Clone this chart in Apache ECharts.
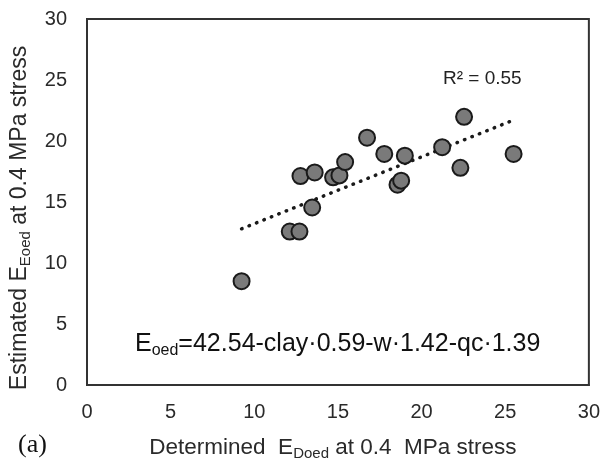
<!DOCTYPE html>
<html>
<head>
<meta charset="utf-8">
<script src="https://cdn.jsdelivr.net/npm/echarts@6/dist/echarts.min.js"></script>
<style>
html,body{margin:0;padding:0;background:#fff;}
#chart{width:603px;height:466px;}
</style>
</head>
<body>
<div id="chart"></div>
<script>
// Determined E_Doed (x) and Estimated E_Eoed (y) at 0.4 MPa stress
const determined = [9.24, 12.12, 12.70, 13.46, 12.76, 13.61, 14.71, 15.09, 15.43, 16.74, 17.77, 19.00, 18.56, 18.78, 21.23, 22.54, 22.32, 25.50];
const estimated  = [8.51, 12.58, 12.58, 14.55, 17.13, 17.42, 17.02, 17.18, 18.27, 20.27, 18.94, 18.80, 16.42, 16.75, 19.49, 21.98, 17.80, 18.94];
const xTicks = [0, 5, 10, 15, 20, 25, 30];
const yTicks = [0, 5, 10, 15, 20, 25, 30];
const r2Label = 'R² = 0.55';
const eqMain = '=42.54-clay·0.59-w·1.42-qc·1.39';

const points = determined.map((x, i) => [x, estimated[i]]);

// linear least-squares trendline
const n = determined.length;
const mx = determined.reduce((a, b) => a + b, 0) / n;
const my = estimated.reduce((a, b) => a + b, 0) / n;
let sxy = 0, sxx = 0;
for (let i = 0; i < n; i++) {
  sxy += (determined[i] - mx) * (estimated[i] - my);
  sxx += (determined[i] - mx) * (determined[i] - mx);
}
const slope = sxy / sxx;
const intercept = my - slope * mx;
const xMin = Math.min(...determined), xMax = Math.max(...determined);
const trend = [[xMin, intercept + slope * xMin], [xMax, intercept + slope * xMax]];

const FONT = '"Liberation Sans", Arial, sans-serif';
const chart = echarts.init(document.getElementById('chart'), null, {renderer: 'canvas'});
chart.setOption({
  animation: false,
  backgroundColor: '#fff',
  grid: {left: 86, right: 14, top: 19, bottom: 78, show: true, borderColor: '#333', borderWidth: 2, containLabel: false},
  xAxis: {
    type: 'value', min: xTicks[0], max: xTicks[xTicks.length - 1], interval: xTicks[1] - xTicks[0],
    axisLine: {show: true, lineStyle: {color: '#333', width: 2}},
    axisTick: {show: false}, splitLine: {show: false},
    axisLabel: {fontFamily: FONT, fontSize: 20, color: '#2a2a2a', margin: 17},
    name: '{m|Determined  E}{s|Doed}{m| at 0.4  MPa stress}',
    nameLocation: 'middle', nameGap: 49,
    nameTextStyle: {
      padding: [0, 10, 0, 0],
      rich: {
        m: {fontFamily: FONT, fontSize: 22.5, color: '#2a2a2a', lineHeight: 27},
        s: {fontFamily: FONT, fontSize: 15, color: '#2a2a2a', lineHeight: 19, verticalAlign: 'bottom'}
      }
    }
  },
  yAxis: {
    type: 'value', min: yTicks[0], max: yTicks[yTicks.length - 1], interval: yTicks[1] - yTicks[0],
    axisLine: {show: true, lineStyle: {color: '#333', width: 2}},
    axisTick: {show: false}, splitLine: {show: false},
    axisLabel: {fontFamily: FONT, fontSize: 20, color: '#2a2a2a', margin: 20},
    name: '{m|Estimated E}{s|Eoed}{m| at 0.4 MPa stress}',
    nameLocation: 'middle', nameGap: 54, nameRotate: 90,
    nameTextStyle: {
      padding: [0, 32, 0, 0],
      rich: {
        m: {fontFamily: FONT, fontSize: 23, color: '#2a2a2a', lineHeight: 27},
        s: {fontFamily: FONT, fontSize: 15, color: '#2a2a2a', lineHeight: 19, verticalAlign: 'bottom'}
      }
    }
  },
  series: [
    {
      type: 'line', data: trend, symbol: 'none', silent: true, z: 1,
      lineStyle: {color: '#1a1a1a', width: 3.5, type: [0.5, 7.5], cap: 'round'}
    },
    {
      type: 'scatter', data: points, symbol: 'circle', symbolSize: 16, z: 2,
      itemStyle: {color: '#7a7a7a', borderColor: '#1a1a1a', borderWidth: 2, opacity: 1}
    }
  ],
  graphic: [
    {
      type: 'text', left: 443, top: 69,
      style: {text: r2Label, fontFamily: FONT, fontSize: 19, fill: '#222'}
    },
    {
      type: 'text', left: 135, top: 332,
      style: {
        text: '{m|E}{s|oed}{m|' + eqMain + '}',
        rich: {
          m: {fontFamily: FONT, fontSize: 25, fill: '#111', lineHeight: 29},
          s: {fontFamily: FONT, fontSize: 16, fill: '#111', lineHeight: 21, verticalAlign: 'bottom'}
        }
      }
    },
    {
      type: 'text', left: 18, top: 432,
      style: {text: '(a)', fontFamily: '"Liberation Serif", "Times New Roman", serif', fontSize: 26, fill: '#111'}
    }
  ]
});
</script>
</body>
</html>
